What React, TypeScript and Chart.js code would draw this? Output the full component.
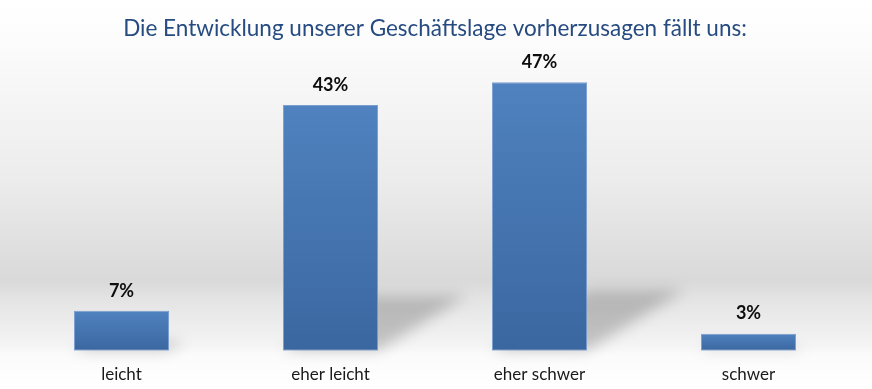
import React, { useEffect, useRef } from "react";
import { Chart, registerables } from "chart.js";

Chart.register(...registerables);

const TITLE = "Die Entwicklung unserer Geschäftslage vorherzusagen fällt uns:";
const CATEGORIES = ["leicht", "eher leicht", "eher schwer", "schwer"];
const VALUES = [7, 43, 47, 3];
const Y_MIN = 0;
const Y_MAX = 50;

const FONT = "Lato, 'Noto Sans', sans-serif";

const backgroundPlugin = {
  id: "bgGradient",
  beforeDraw(chart: any) {
    const { ctx, width, height } = chart;
    ctx.save();
    const g = ctx.createLinearGradient(0, 0, 0, height);
    g.addColorStop(0, "#ffffff");
    g.addColorStop(40 / 389, "#fcfcfc");
    g.addColorStop(180 / 389, "#ececec");
    g.addColorStop(280 / 389, "#d9d9d9");
    g.addColorStop(300 / 389, "#e4e4e4");
    g.addColorStop(345 / 389, "#f4f4f4");
    g.addColorStop(355 / 389, "#fbfbfb");
    g.addColorStop(1, "#ffffff");
    ctx.fillStyle = g;
    ctx.fillRect(0, 0, width, height);
    ctx.restore();
  },
};

const shadowPlugin = {
  id: "barShadow",
  beforeDatasetsDraw(chart: any) {
    const { ctx } = chart;
    const meta = chart.getDatasetMeta(0);
    ctx.save();
    ctx.filter = "blur(7px)";
    ctx.fillStyle = "rgba(0,0,0,0.2)";
    meta.data.forEach((bar: any) => {
      const p = bar.getProps(["x", "y", "base", "width"], true);
      const L = p.x - p.width / 2;
      const R = p.x + p.width / 2;
      const B = p.base;
      const h = B - p.y;
      const dy = h * 0.225;
      const dx = h * 0.36;
      ctx.beginPath();
      ctx.moveTo(L, B);
      ctx.lineTo(R, B);
      ctx.lineTo(R + dx, B - dy);
      ctx.lineTo(L + dx, B - dy);
      ctx.closePath();
      ctx.fill();
    });
    ctx.restore();
  },
};

const labelPlugin = {
  id: "valueLabels",
  afterDatasetsDraw(chart: any) {
    const { ctx } = chart;
    const meta = chart.getDatasetMeta(0);
    const data = chart.data.datasets[0].data;
    ctx.save();
    ctx.font = `bold 18px ${FONT}`;
    ctx.fillStyle = "#0d0d0d";
    ctx.textAlign = "center";
    ctx.textBaseline = "middle";
    meta.data.forEach((bar: any, i: number) => {
      const p = bar.getProps(["x", "y"], true);
      ctx.fillText(`${data[i]}%`, p.x, p.y - 20);
    });
    ctx.restore();
  },
};

export default function App() {
  const ref = useRef<HTMLCanvasElement>(null);
  useEffect(() => {
    if (!ref.current) return;
    const chart = new Chart(ref.current, {
      type: "bar",
      data: {
        labels: CATEGORIES,
        datasets: [
          {
            data: VALUES,
            backgroundColor: (c: any) => {
              const ch = c.chart;
              if (!ch.chartArea || c.raw === undefined) return "#4a7ab5";
              const y = ch.scales.y;
              const top = y.getPixelForValue(c.raw);
              const bot = y.getPixelForValue(0);
              const g = ch.ctx.createLinearGradient(0, top, 0, bot);
              g.addColorStop(0, "#4f82bf");
              g.addColorStop(1, "#3b67a0");
              return g;
            },
            borderColor: "rgba(110,150,205,0.9)",
            borderWidth: 1,
            borderSkipped: false,
            barPercentage: 0.455,
            categoryPercentage: 1,
          },
        ],
      },
      options: {
        responsive: false,
        animation: false,
        layout: { padding: { left: 17, right: 19, top: 0, bottom: -10.2 } },
        plugins: {
          legend: { display: false },
          tooltip: { enabled: false },
          title: {
            display: true,
            text: TITLE,
            color: "#264b80",
            font: { family: FONT, size: 22.5, weight: "normal" },
            padding: { top: 15, bottom: 23 },
          },
        },
        scales: {
          x: {
            grid: { display: false, drawTicks: false },
            border: { display: false },
            ticks: {
              color: "#1a1a1a",
              font: { family: FONT, size: 17 },
              padding: 14,
            },
          },
          y: {
            display: false,
            min: Y_MIN,
            max: Y_MAX,
          },
        },
      },
      plugins: [backgroundPlugin, shadowPlugin, labelPlugin],
    });
    return () => chart.destroy();
  }, []);
  return (
    <div style={{ position: "absolute", left: 0, top: 0, width: 872, height: 389 }}>
      <canvas ref={ref} width={872} height={389} style={{ display: "block" }} />
    </div>
  );
}
